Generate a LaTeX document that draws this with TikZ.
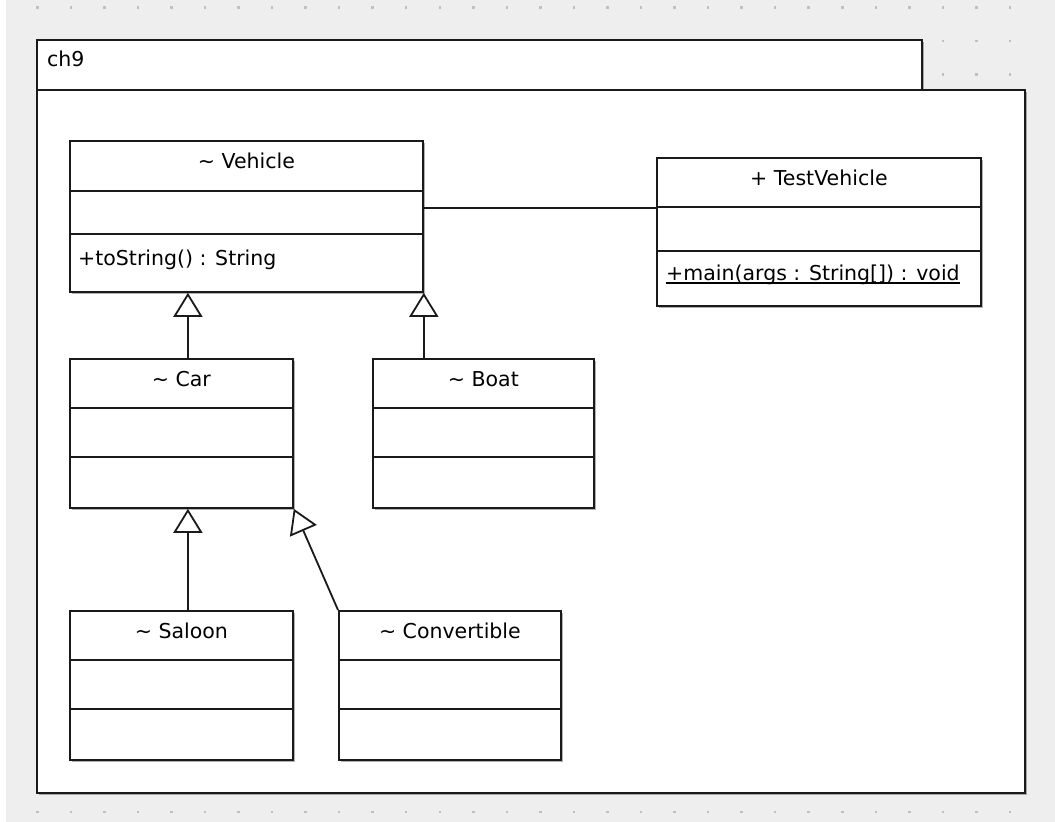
\documentclass[tikz,border=0pt]{standalone}
\usepackage{fontspec}
\setmainfont{DejaVu Sans}
\usetikzlibrary{arrows.meta,shadows}
\definecolor{umlbg}{HTML}{EEEEEE}
\definecolor{umldot}{HTML}{C0C0C0}
\definecolor{umlline}{HTML}{1A1A1A}

\begin{document}
\begin{tikzpicture}[x=1pt,y=-1pt,
  box/.style={draw=umlline,line width=1.8pt,fill=white,inner sep=0pt,anchor=north west,
    drop shadow={shadow xshift=2pt,shadow yshift=-2pt,fill=black,opacity=0.3}},
  sep/.style={draw=umlline,line width=1.8pt},
  ttl/.style={font=\fontsize{20.5}{24}\selectfont,inner sep=0pt,anchor=base},
  op/.style={font=\fontsize{20.5}{24}\selectfont,inner sep=0pt,anchor=base west},
  inh/.style={draw=umlline,line width=1.8pt,-{Triangle[fill=white,length=24pt,width=29pt,line width=1.8pt]}}]
  \useasboundingbox (0,0) rectangle (1055,822);
  \fill[white] (0,0) rectangle (1055,822);
  \fill[umlbg] (6,0) rectangle (1055,822);
  \foreach \i in {1,...,30}{\foreach \j in {0,...,24}{\fill[umldot] (2.5+\i*33.54,6+\j*33.54) rectangle ++(2.5,2.5);}}

  \node[box,minimum width=885pt,minimum height=50pt] (tab) at (36,39) {};
  \node[box,minimum width=988pt,minimum height=703pt] (pkg) at (36,89) {};
  \node[op] (pkg-t) at ([xshift=11pt,yshift=-27pt]tab.north west) {ch9};

  \node[box,minimum width=353pt,minimum height=151pt] (veh) at (69,140) {};
  \draw[sep] ([yshift=-51pt]veh.north west) -- ([yshift=-51pt]veh.north east);
  \draw[sep] ([yshift=-94pt]veh.north west) -- ([yshift=-94pt]veh.north east);
  \node[ttl] (veh-t) at ([yshift=-28pt]veh.north) {\textasciitilde\ Vehicle};
  \node[op] (veh-m) at ([xshift=9pt,yshift=-125pt]veh.north west) {+toString() : String};

  \node[box,minimum width=324pt,minimum height=148pt] (tv) at (656,157) {};
  \draw[sep] ([yshift=-50pt]tv.north west) -- ([yshift=-50pt]tv.north east);
  \draw[sep] ([yshift=-94pt]tv.north west) -- ([yshift=-94pt]tv.north east);
  \node[ttl] (tv-t) at ([yshift=-28pt]tv.north) {+ TestVehicle};
  \node[op] (tv-m) at ([xshift=10pt,yshift=-123pt]tv.north west) {+main(args : String[]) : void};
  \draw[line width=1.4pt] ([yshift=-3pt]tv-m.base west) -- ([yshift=-3pt]tv-m.base east);

  \foreach \n/\x/\y/\w/\t in {car/69/358/223/Car,boat/372/358/221/Boat,saloon/69/610/223/Saloon,conv/338/610/222/Convertible}{
    \node[box,minimum width=\w pt,minimum height=149pt] (\n) at (\x,\y) {};
    \draw[sep] ([yshift=-50pt]\n.north west) -- ([yshift=-50pt]\n.north east);
    \draw[sep] ([yshift=-99pt]\n.north west) -- ([yshift=-99pt]\n.north east);
    \node[ttl] (\n-t) at ([yshift=-28pt]\n.north) {\textasciitilde\ \t};
  }

  \path ([yshift=8.5pt]veh.east) coordinate (asc);
  \draw[sep] (asc) -- (asc -| tv.west);
  \draw[inh] ([xshift=6.5pt]car.north) -- ([xshift=6.5pt]car.north |- veh.south);
  \draw[inh] (veh.south east |- boat.north) -- (veh.south east);
  \draw[inh] ([xshift=6.5pt]saloon.north) -- ([xshift=6.5pt]saloon.north |- car.south);
  \draw[inh] (conv.north west) -- (car.south east);
\end{tikzpicture}
\end{document}
